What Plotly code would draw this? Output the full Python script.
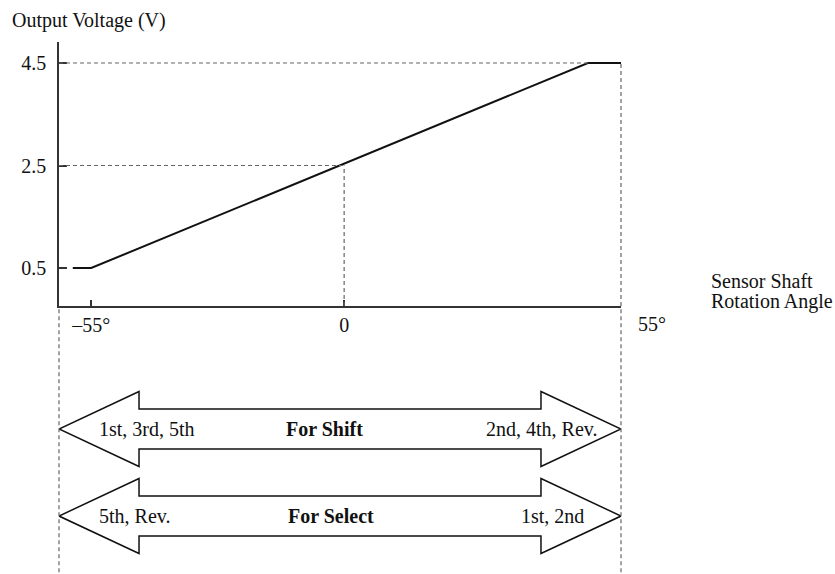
import plotly.graph_objects as go

# ---------------- data ----------------
# sensor output characteristic (angle in degrees, output in volts)
line_angle = [-59.0, -55.0, 53.0, 60.2]
line_voltage = [0.5, 0.5, 4.5, 4.5]

x_tick_vals = [-55, 0]
x_tick_text = ["\u201355\u00b0", "0"]
end_label = "55\u00b0"

y_tick_vals = [0.5, 2.5, 4.5]
y_tick_text = ["0.5", "2.5", "4.5"]

# double-headed arrows below the chart
arrow_levels = [2, 1]
arrow_left_text = ["1st, 3rd, 5th", "5th, Rev."]
arrow_mid_text = ["For Shift", "For Select"]
arrow_right_text = ["2nd, 4th, Rev.", "1st, 2nd"]
arrow_mid_x = [-4.3, -2.8]
arrow_left_x = [-53.7, -53.7]
arrow_right_x = [55.4, 52.6]

# ---------------- layout constants ----------------
W, H = 835, 574
X_MIN, X_MAX = -62.0, 60.2
Y_MIN, Y_MAX = -0.241, 4.91
Y2_MIN, Y2_MAX = 0.334, 3.414
AX_BOTTOM_PX, AX_TOP_PX = 306, 42
y_dom = [(H - AX_BOTTOM_PX) / H, (H - AX_TOP_PX) / H]
HEAD_LEN = 17.4     # arrow head length (deg units)
HEAD_HALF = 0.431   # arrow head half height (y2 units)
SHAFT_HALF = 0.23   # arrow shaft half height (y2 units)

FONT = "Liberation Serif"
FS = 20
INK = "#111111"
AXC = "#333333"
DASHC = "#666666"

fig = go.Figure()

fig.add_trace(go.Scatter(
    x=line_angle, y=line_voltage, mode="lines",
    line=dict(color=INK, width=2), xaxis="x", yaxis="y",
    hoverinfo="skip", showlegend=False))

# arrows
for lev in arrow_levels:
    tl, tr = X_MIN, X_MAX
    bl, br = X_MIN + HEAD_LEN, X_MAX - HEAD_LEN
    xs = [tl, bl, bl, br, br, tr, br, br, bl, bl, tl]
    ys = [lev, lev + HEAD_HALF, lev + SHAFT_HALF, lev + SHAFT_HALF, lev + HEAD_HALF, lev,
          lev - HEAD_HALF, lev - SHAFT_HALF, lev - SHAFT_HALF, lev - HEAD_HALF, lev]
    fig.add_trace(go.Scatter(
        x=xs, y=ys, mode="lines", fill="toself", fillcolor="white",
        line=dict(color=INK, width=1.5), xaxis="x", yaxis="y2",
        hoverinfo="skip", showlegend=False))

dash = dict(color=DASHC, width=1.2, dash="4px,3px")
shapes = [
    dict(type="line", xref="x", yref="y", x0=X_MIN, x1=line_angle[2], y0=4.5, y1=4.5, line=dash),
    dict(type="line", xref="x", yref="y", x0=X_MIN, x1=0, y0=2.5, y1=2.5, line=dash),
    dict(type="line", xref="x", yref="y", x0=0, x1=0, y0=Y_MIN, y1=2.5, line=dash),
    dict(type="line", xref="x domain", yref="y", x0=1, x1=1, y0=Y_MIN, y1=4.5, line=dash),
    dict(type="line", xref="x domain", yref="y2", x0=1, x1=1, y0=Y2_MIN + 0.02, y1=Y2_MAX, line=dash),
    dict(type="line", xref="x domain", yref="y2", x0=0, x1=0, y0=Y2_MIN + 0.02, y1=Y2_MAX, line=dash),
]

tf = dict(family=FONT, size=FS, color=INK)
annotations = [
    dict(text="Output Voltage (V)", xref="paper", yref="paper",
         x=(10 - 59) / (W - 59 - 214), y=(H - 20) / H, xanchor="left", yanchor="middle",
         showarrow=False, font=tf),
    dict(text=end_label, xref="x", yref="y", x=X_MAX, y=Y_MIN, xanchor="left", yanchor="middle",
         xshift=15, yshift=-18, showarrow=False, font=tf),
    dict(text="Sensor Shaft", xref="x", yref="y", x=X_MAX, y=Y_MIN, xanchor="left", yanchor="middle",
         xshift=88, yshift=25, showarrow=False, font=tf),
    dict(text="Rotation Angle", xref="x", yref="y", x=X_MAX, y=Y_MIN, xanchor="left", yanchor="middle",
         xshift=88, yshift=5, showarrow=False, font=tf),
]
for lev, lt, mt, rt, mx, lx, rx in zip(arrow_levels, arrow_left_text, arrow_mid_text,
                                        arrow_right_text, arrow_mid_x, arrow_left_x, arrow_right_x):
    annotations.append(dict(text=lt, xref="x", yref="y2", x=lx, y=lev, xanchor="left",
                            yanchor="middle", showarrow=False, font=tf))
    annotations.append(dict(text="<b>" + mt + "</b>", xref="x", yref="y2", x=mx, y=lev,
                            xanchor="center", yanchor="middle", showarrow=False, font=tf))
    annotations.append(dict(text=rt, xref="x", yref="y2", x=rx, y=lev, xanchor="right",
                            yanchor="middle", showarrow=False, font=tf))

fig.update_layout(
    width=W, height=H,
    margin=dict(l=59, r=214, t=0, b=0, pad=0),
    paper_bgcolor="white", plot_bgcolor="white",
    showlegend=False,
    shapes=shapes, annotations=annotations,
    xaxis=dict(domain=[0, 1], range=[X_MIN, X_MAX], anchor="y",
               showline=True, linecolor=AXC, linewidth=1.6,
               ticks="inside", ticklen=6, tickwidth=1.5, tickcolor=AXC,
               tickvals=x_tick_vals, ticktext=x_tick_text, tickfont=tf,
               ticklabelstandoff=0,
               showgrid=False, zeroline=False, fixedrange=True),
    yaxis=dict(domain=y_dom, range=[Y_MIN, Y_MAX], anchor="x",
               showline=True, linecolor=AXC, linewidth=1.6,
               ticks="inside", ticklen=8, tickwidth=1.5, tickcolor=AXC,
               tickvals=y_tick_vals, ticktext=y_tick_text, tickfont=tf,
               ticklabelstandoff=7,
               showgrid=False, zeroline=False, fixedrange=True),
    yaxis2=dict(domain=[0, y_dom[0]], range=[Y2_MIN, Y2_MAX], anchor="x",
                visible=False, fixedrange=True),
)

fig.write_html("out.html", config={"displayModeBar": False},
               post_script="document.body.style.margin='0';document.body.style.overflow='hidden';")
